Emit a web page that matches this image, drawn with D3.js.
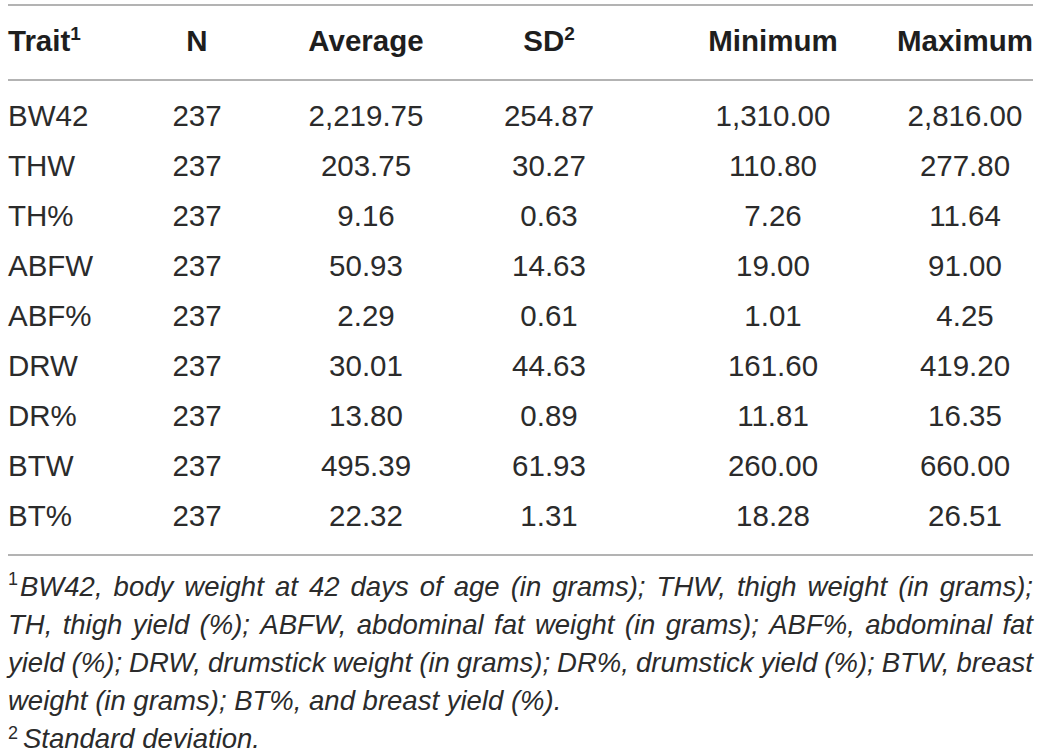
<!DOCTYPE html>
<html>
<head>
<meta charset="utf-8">
<script src="https://cdn.jsdelivr.net/npm/d3@7/dist/d3.min.js"></script>
<style>
  html, body { margin: 0; padding: 0; background: #fff; }
  svg { display: block; }
</style>
</head>
<body>
<svg id="chart" width="1041" height="754"></svg>
<script>
// ---- data ----
const headers = ["Trait", "N", "Average", "SD", "Minimum", "Maximum"];
const headerSup = ["1", "", "", "2", "", ""];
const traits = ["BW42", "THW", "TH%", "ABFW", "ABF%", "DRW", "DR%", "BTW", "BT%"];
const nValues = [237, 237, 237, 237, 237, 237, 237, 237, 237];
const averages = ["2,219.75", "203.75", "9.16", "50.93", "2.29", "30.01", "13.80", "495.39", "22.32"];
const sds = ["254.87", "30.27", "0.63", "14.63", "0.61", "44.63", "0.89", "61.93", "1.31"];
const minimums = ["1,310.00", "110.80", "7.26", "19.00", "1.01", "161.60", "11.81", "260.00", "18.28"];
const maximums = ["2,816.00", "277.80", "11.64", "91.00", "4.25", "419.20", "16.35", "660.00", "26.51"];
const footnote1Lines = [
  "BW42, body weight at 42 days of age (in grams); THW, thigh weight (in grams);",
  "TH, thigh yield (%); ABFW, abdominal fat weight (in grams); ABF%, abdominal fat",
  "yield (%); DRW, drumstick weight (in grams); DR%, drumstick yield (%); BTW, breast",
  "weight (in grams); BT%, and breast yield (%)."
];
const footnote2 = "Standard deviation.";

// ---- layout ----
const left = 8, right = 1033;
const font = "'Liberation Sans', Arial, Helvetica, sans-serif";
const textColor = "#2b2b2b";
const ruleColor = "#9a9a9a";
const colX = [8, 197, 366, 549, 773, 965];
const colAnchor = ["start", "middle", "middle", "middle", "middle", "middle"];
const tableSize = 29.5;

const svg = d3.select("#chart");

const rows = traits.map((t, i) => [t, String(nValues[i]), averages[i], sds[i], minimums[i], maximums[i]]);

const y = d3.scaleLinear().domain([0, traits.length - 1]).range([126, 526]);

// rules
const rules = [5, 80, 555];
svg.selectAll("line.rule").data(rules).join("line")
  .attr("class", "rule")
  .attr("x1", left).attr("x2", right)
  .attr("y1", d => d).attr("y2", d => d)
  .attr("stroke", ruleColor).attr("stroke-width", 1.6);

// header
const hdr = svg.selectAll("text.hdr").data(headers).join("text")
  .attr("class", "hdr")
  .attr("x", (d, i) => colX[i])
  .attr("y", 51)
  .attr("text-anchor", (d, i) => colAnchor[i])
  .attr("font-family", font).attr("font-weight", "bold").attr("font-size", tableSize)
  .attr("fill", "#1e1e1e");
hdr.append("tspan").text(d => d);
hdr.append("tspan")
  .attr("font-size", 19).attr("dy", -11)
  .text((d, i) => headerSup[i]);

// body rows
const rowG = svg.selectAll("g.row").data(rows).join("g")
  .attr("class", "row")
  .attr("transform", (d, i) => `translate(0,${y(i)})`);
rowG.selectAll("text").data(d => d).join("text")
  .attr("x", (d, i) => colX[i])
  .attr("text-anchor", (d, i) => colAnchor[i])
  .attr("font-family", font).attr("font-size", tableSize)
  .attr("fill", textColor)
  .text(d => d);

// footnotes (justified)
const fnSize = 27.5;
const fnY = [596, 634, 672, 710];
const fn2Y = 748;
function justifyLine(str, x0, x1, yy, justify) {
  const words = str.split(" ");
  const g = svg.append("g");
  const nodes = words.map(w => g.append("text")
    .attr("y", yy)
    .attr("font-family", font).attr("font-style", "italic").attr("font-size", fnSize)
    .attr("fill", textColor).text(w));
  const widths = nodes.map(n => n.node().getComputedTextLength());
  const total = d3.sum(widths);
  const spaceW = fnSize * 0.278;
  const gap = justify && words.length > 1 ? (x1 - x0 - total) / (words.length - 1) : spaceW;
  let x = x0;
  nodes.forEach((n, i) => { n.attr("x", x); x += widths[i] + gap; });
}
svg.append("text").attr("x", left).attr("y", fnY[0] - 11)
  .attr("font-family", font).attr("font-size", 18).attr("fill", textColor).text("1");
footnote1Lines.forEach((line, i) => {
  justifyLine(line, i === 0 ? 20 : left, right, fnY[i], i < footnote1Lines.length - 1);
});
svg.append("text").attr("x", left).attr("y", fn2Y - 9)
  .attr("font-family", font).attr("font-size", 18).attr("fill", textColor).text("2");
justifyLine(footnote2, 23, right, fn2Y, false);
</script>
</body>
</html>
